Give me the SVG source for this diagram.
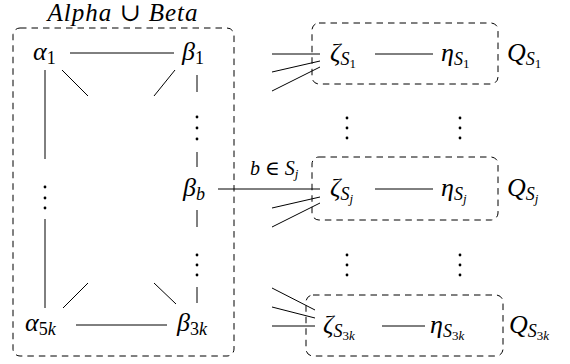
<svg xmlns="http://www.w3.org/2000/svg" width="570" height="364" viewBox="0 0 570 364">
<style>
.t{font-family:"Liberation Serif","DejaVu Serif",serif;font-style:italic;font-size:26px;fill:#000}
.u{font-style:normal}
.s{font-size:18px}
.ss{font-size:13px}
.lab{font-size:20px}
.e{stroke:#000;stroke-width:1;fill:none}
.box{stroke:#000;stroke-width:1;fill:none;stroke-dasharray:6.5 5}
.d{fill:#000}
</style>
<rect width="570" height="364" fill="#fff"/>
<g id="group-alphabeta">
<rect class="box" x="13" y="28" width="221" height="328" rx="7"/>
<text class="t" x="123" y="21" text-anchor="middle" style="font-size:25px" letter-spacing="1">Alpha<tspan class="u"> ∪ </tspan>Beta</text>
</g>
<g id="group-QS1"><rect class="box" x="312" y="23" width="186" height="61" rx="7"/></g>
<g id="group-QSj"><rect class="box" x="312" y="157" width="186" height="63" rx="7"/></g>
<g id="group-QS3k"><rect class="box" x="306" y="295" width="197" height="61" rx="7"/></g>

<g id="alpha1"><text class="t" x="33" y="60">α<tspan class="u s" dy="4">1</tspan></text></g>
<g id="beta1"><text class="t" x="182" y="60">β<tspan class="u s" dy="4">1</tspan></text></g>
<g id="alpha-dots"><circle class="d" cx="45" cy="187" r="1.4"/><circle class="d" cx="45" cy="198" r="1.4"/><circle class="d" cx="45" cy="208" r="1.4"/></g>
<g id="beta-dots-top"><circle class="d" cx="197" cy="117" r="1.4"/><circle class="d" cx="197" cy="128" r="1.4"/><circle class="d" cx="197" cy="139" r="1.4"/></g>
<g id="betab"><text class="t" x="183" y="196">β<tspan class="s" dy="4">b</tspan></text></g>
<g id="beta-dots-bottom"><circle class="d" cx="197" cy="255" r="1.4"/><circle class="d" cx="197" cy="265" r="1.4"/><circle class="d" cx="197" cy="275" r="1.4"/></g>
<g id="alpha5k"><text class="t" x="25" y="331">α<tspan class="u s" dy="4">5</tspan><tspan class="s">k</tspan></text></g>
<g id="beta3k"><text class="t" x="177" y="331">β<tspan class="u s" dy="4">3</tspan><tspan class="s">k</tspan></text></g>

<g id="zetaS1"><text class="t" x="330" y="61">ζ<tspan class="s" dy="4">S</tspan><tspan class="u ss" dy="3">1</tspan></text></g>
<g id="etaS1"><text class="t" x="441" y="61">η<tspan class="s" dy="4">S</tspan><tspan class="u ss" dy="3">1</tspan></text></g>
<g id="QS1"><text class="t" x="507" y="61">Q<tspan class="s" dy="4">S</tspan><tspan class="u ss" dy="3">1</tspan></text></g>
<g id="zeta-dots"><circle class="d" cx="347" cy="118" r="1.4"/><circle class="d" cx="347" cy="128" r="1.4"/><circle class="d" cx="347" cy="138" r="1.4"/><circle class="d" cx="347" cy="255" r="1.4"/><circle class="d" cx="347" cy="265" r="1.4"/><circle class="d" cx="347" cy="275" r="1.4"/></g>
<g id="eta-dots"><circle class="d" cx="460" cy="118" r="1.4"/><circle class="d" cx="460" cy="128" r="1.4"/><circle class="d" cx="460" cy="138" r="1.4"/><circle class="d" cx="460" cy="255" r="1.4"/><circle class="d" cx="460" cy="265" r="1.4"/><circle class="d" cx="460" cy="275" r="1.4"/></g>
<g id="zetaSj"><text class="t" x="330" y="196">ζ<tspan class="s" dy="4">S</tspan><tspan class="ss" dy="3">j</tspan></text></g>
<g id="etaSj"><text class="t" x="441" y="196">η<tspan class="s" dy="4">S</tspan><tspan class="ss" dy="3">j</tspan></text></g>
<g id="QSj"><text class="t" x="507" y="196">Q<tspan class="s" dy="4">S</tspan><tspan class="ss" dy="3">j</tspan></text></g>
<g id="zetaS3k"><text class="t" x="323" y="333">ζ<tspan class="s" dy="4">S</tspan><tspan class="u ss" dy="3">3</tspan><tspan class="ss">k</tspan></text></g>
<g id="etaS3k"><text class="t" x="430" y="333">η<tspan class="s" dy="4">S</tspan><tspan class="u ss" dy="3">3</tspan><tspan class="ss">k</tspan></text></g>
<g id="QS3k"><text class="t" x="509" y="333">Q<tspan class="s" dy="4">S</tspan><tspan class="u ss" dy="3">3</tspan><tspan class="ss">k</tspan></text></g>

<g id="connectors">
<line class="e" x1="70" y1="53" x2="174" y2="53"/>
<line class="e" x1="62" y1="70" x2="88" y2="96"/>
<line class="e" x1="175" y1="70" x2="154" y2="96"/>
<line class="e" x1="45" y1="70" x2="45" y2="159"/>
<line class="e" x1="45" y1="219" x2="45" y2="308"/>
<line class="e" x1="197" y1="75" x2="197" y2="92"/>
<line class="e" x1="197" y1="152" x2="197" y2="167"/>
<line class="e" x1="197" y1="210" x2="197" y2="227"/>
<line class="e" x1="197" y1="287" x2="197" y2="303"/>
<line class="e" x1="63" y1="308" x2="88" y2="283"/>
<line class="e" x1="176" y1="304" x2="154" y2="283"/>
<line class="e" x1="76" y1="325" x2="167" y2="325"/>
<line class="e" x1="272" y1="54" x2="320" y2="54"/>
<line class="e" x1="272" y1="72" x2="320" y2="61"/>
<line class="e" x1="272" y1="91" x2="320" y2="67"/>
<line class="e" x1="375" y1="54" x2="433" y2="54"/>
<line class="e" x1="218" y1="189" x2="320" y2="189"/>
<text class="t lab" x="250" y="175">b<tspan class="u"> ∈ </tspan>S<tspan class="ss" dy="3">j</tspan></text>
<line class="e" x1="272" y1="208" x2="320" y2="197"/>
<line class="e" x1="272" y1="227" x2="320" y2="203"/>
<line class="e" x1="375" y1="189" x2="433" y2="189"/>
<line class="e" x1="272" y1="288" x2="315" y2="310"/>
<line class="e" x1="272" y1="307" x2="315" y2="318"/>
<line class="e" x1="272" y1="326" x2="315" y2="326"/>
<line class="e" x1="382" y1="326" x2="425" y2="326"/>
</g>
</svg>
